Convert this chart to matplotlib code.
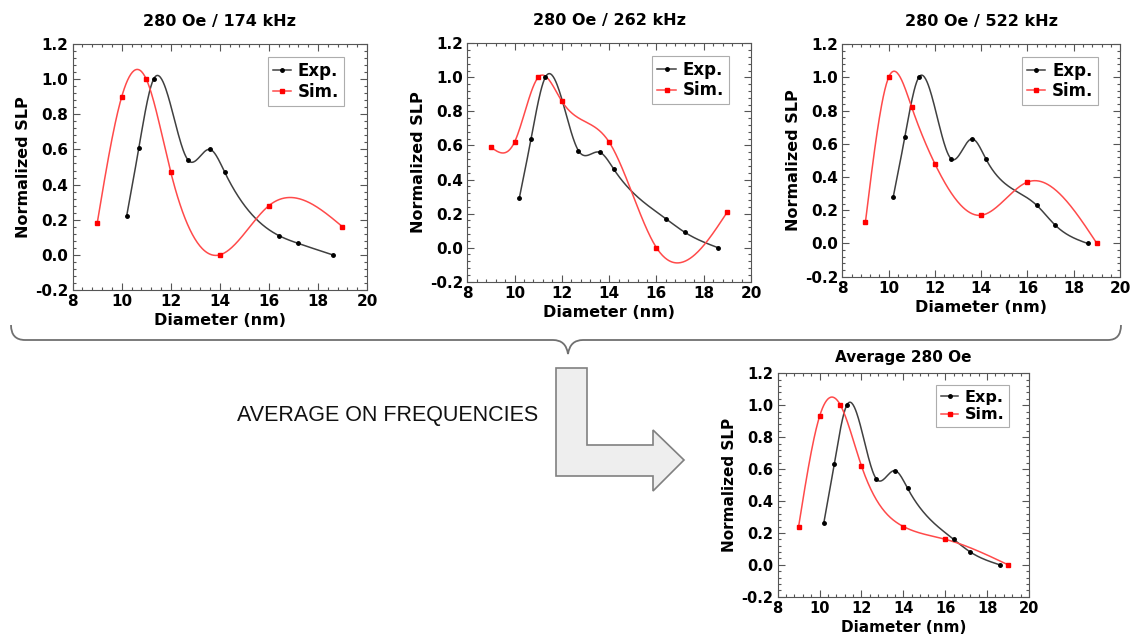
import numpy as np
import matplotlib
matplotlib.use('Agg')
from matplotlib import pyplot as plt
from matplotlib.patches import PathPatch, Polygon
from matplotlib.path import Path
from matplotlib.ticker import MultipleLocator

# diameters (nm)
d_exp = [10.2, 10.7, 11.3, 12.7, 13.6, 14.2, 16.4, 17.2, 18.6]
d_sim = [9, 10, 11, 12, 14, 16, 19]

# normalized SLP
exp_174 = [0.22, 0.61, 1.0, 0.54, 0.60, 0.47, 0.11, 0.065, 0.0]
sim_174 = [0.18, 0.90, 1.0, 0.47, 0.0, 0.28, 0.16]
exp_262 = [0.29, 0.64, 1.0, 0.57, 0.56, 0.46, 0.17, 0.09, 0.0]
sim_262 = [0.59, 0.62, 1.0, 0.86, 0.62, 0.0, 0.21]
exp_522 = [0.28, 0.64, 1.0, 0.51, 0.63, 0.51, 0.23, 0.11, 0.0]
sim_522 = [0.13, 1.0, 0.82, 0.48, 0.17, 0.37, 0.0]
exp_avg = [0.26, 0.63, 1.0, 0.54, 0.59, 0.48, 0.16, 0.08, 0.0]
sim_avg = [0.24, 0.93, 1.0, 0.62, 0.24, 0.16, 0.0]

titles = ['280 Oe / 174 kHz', '280 Oe / 262 kHz', '280 Oe / 522 kHz', 'Average 280 Oe']
xticks = [8, 10, 12, 14, 16, 18, 20]
yticks = [-0.2, 0.0, 0.2, 0.4, 0.6, 0.8, 1.0, 1.2]


def smooth(x, y, n=300):
    # natural cubic spline through the points (line style of the original)
    x = np.asarray(x, float); y = np.asarray(y, float)
    h = np.diff(x)
    m = len(x)
    A = np.zeros((m, m)); b = np.zeros(m)
    A[0, 0] = A[-1, -1] = 1
    for i in range(1, m - 1):
        A[i, i - 1] = h[i - 1]
        A[i, i] = 2 * (h[i - 1] + h[i])
        A[i, i + 1] = h[i]
        b[i] = 6 * ((y[i + 1] - y[i]) / h[i] - (y[i] - y[i - 1]) / h[i - 1])
    M = np.linalg.solve(A, b)
    xs = np.linspace(x[0], x[-1], n)
    k = np.clip(np.searchsorted(x, xs) - 1, 0, m - 2)
    t1 = x[k + 1] - xs; t0 = xs - x[k]
    ys = (M[k] * t1**3 + M[k + 1] * t0**3) / (6 * h[k]) \
        + (y[k] / h[k] - M[k] * h[k] / 6) * t1 + (y[k + 1] / h[k] - M[k + 1] * h[k] / 6) * t0
    return xs, ys


def plot_panel(ax, title, exp_y, sim_y, fs=11, tpad=13):
    ax.plot(*smooth(d_exp, exp_y), color='#404040', lw=1.1)
    ax.plot(*smooth(d_sim, sim_y), color='#ff4a4a', lw=1.1)
    ax.plot(d_exp, exp_y, 'o', color='black', ms=2.5, ls='none')
    ax.plot(d_sim, sim_y, 's', color='red', ms=3, ls='none')
    # legend proxies
    ax.plot([], [], '-o', color='#404040', mfc='black', mec='black', ms=2.5, lw=1.1, label='Exp.')
    ax.plot([], [], '-s', color='#ff4a4a', mfc='red', mec='red', ms=3, lw=1.1, label='Sim.')
    ax.set_xticks(xticks)
    ax.set_yticks(yticks)
    ax.set_xticklabels(['%d' % v for v in xticks], fontweight='bold', fontsize=fs)
    ax.set_yticklabels(['%.1f' % v if v != 0 else '0.0' for v in yticks], fontweight='bold', fontsize=fs)
    ax.set_xlim(8, 20)
    ax.set_ylim(-0.2, 1.2)
    ax.xaxis.set_minor_locator(MultipleLocator(0.4))
    ax.yaxis.set_minor_locator(MultipleLocator(0.04))
    ax.tick_params(which='both', direction='in', top=True, right=True, width=0.8, color='#555555', pad=3)
    ax.tick_params(which='major', length=5)
    ax.tick_params(which='minor', length=2.5)
    for s in ax.spines.values():
        s.set_color('#555555'); s.set_linewidth(0.8)
    ax.set_title(title, fontweight='bold', fontsize=fs + 0.5, pad=tpad)
    ax.set_xlabel('Diameter (nm)', fontweight='bold', fontsize=fs + 0.5, labelpad=3)
    ax.set_ylabel('Normalized SLP', fontweight='bold', fontsize=fs + 0.5, labelpad=3)
    leg = ax.legend(loc='upper right', prop={'weight': 'bold', 'size': fs + 1},
                    fancybox=False, edgecolor='#999999', handlelength=1.1, handletextpad=0.4,
                    borderpad=0.3, labelspacing=0.15, borderaxespad=0,
                    bbox_to_anchor=(0.922, 0.947))
    leg.get_frame().set_linewidth(0.8)


fig = plt.figure(figsize=(11.3, 6.35), dpi=100)

# background layer for the brace and the arrow, in pixel units
bg = fig.add_axes([0, 0, 1, 1])
bg.set_xlim(0, 1130); bg.set_ylim(635, 0); bg.axis('off')
brace = Path([(11, 325), (11, 340), (25, 340),
              (553, 340), (566, 340), (568, 354),
              (570, 340), (583, 340),
              (1108, 340), (1121, 340), (1121, 325)],
             [Path.MOVETO, Path.CURVE3, Path.CURVE3,
              Path.LINETO, Path.CURVE3, Path.CURVE3,
              Path.CURVE3, Path.CURVE3,
              Path.LINETO, Path.CURVE3, Path.CURVE3])
bg.add_patch(PathPatch(brace, fc='none', ec='#707070', lw=1.3))
arrow = [(556, 368), (587, 368), (587, 445), (653, 445), (653, 430), (684, 460),
         (653, 491), (653, 476), (556, 476)]
bg.add_patch(Polygon(arrow, closed=True, fc='#eeeeee', ec='#808080', lw=1.2))
bg.text(388, 416, 'AVERAGE ON FREQUENCIES', ha='center', va='center',
        fontsize=15.5, family='Liberation Sans', color='#111111')

pos = [[0.0643, 0.5433, 0.2605, 0.3874],
       [0.4135, 0.5564, 0.2511, 0.3754],
       [0.7454, 0.5643, 0.2458, 0.3660],
       [0.6882, 0.0603, 0.2224, 0.3518]]
data = [(exp_174, sim_174), (exp_262, sim_262), (exp_522, sim_522), (exp_avg, sim_avg)]
for i in range(4):
    ax = fig.add_axes(pos[i])
    if i < 3:
        plot_panel(ax, titles[i], data[i][0], data[i][1], fs=11, tpad=13)
    else:
        plot_panel(ax, titles[i], data[i][0], data[i][1], fs=10.5, tpad=8)

fig.savefig('out.png', dpi=100)
